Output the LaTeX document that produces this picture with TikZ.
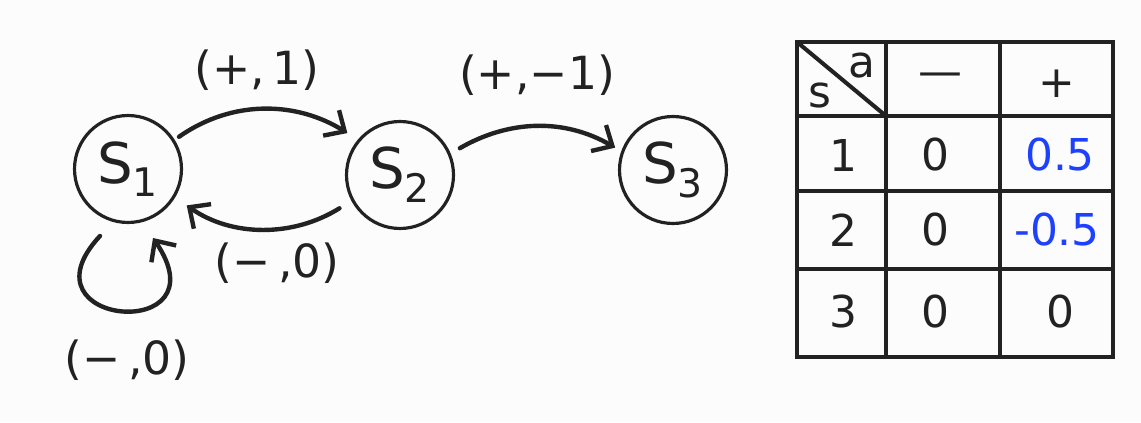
\documentclass[tikz,border=0pt]{standalone}
\usepackage{fontspec}
\setmainfont{DejaVu Sans}
\usetikzlibrary{arrows.meta}
\definecolor{ink}{RGB}{34,34,34}
\definecolor{penblue}{RGB}{30,64,255}
\definecolor{paper}{RGB}{252,252,252}
\begin{document}
\begin{tikzpicture}[x=0.02cm,y=0.02cm,
  state/.style={circle,draw=ink,line width=1.8pt,minimum size=2.14cm,inner sep=0pt,
    font=\fontsize{32}{36}\selectfont,text=ink},
  conn/.style={draw=ink,line width=2.5pt,line cap=round,
    -{Straight Barb[length=3.2mm,width=6mm,line width=2.5pt]}},
  lbl/.style={font=\fontsize{26}{30}\selectfont,text=ink,inner sep=0pt},
  cell/.style={font=\fontsize{25}{29}\selectfont,text=ink,inner sep=0pt},
  bluecell/.style={cell,text=penblue},
  gridline/.style={draw=ink,line width=2.3pt}]
\fill[paper] (0,0) rectangle (1141,422);
\useasboundingbox (0,0) rectangle (1141,422);

% states
\node[state] (s1) at (128,253) {S\textsubscript{1}};
\node[state] (s2) at (400,247) {S\textsubscript{2}};
\node[state] (s3) at (673,252) {S\textsubscript{3}};

% connectors
\draw[conn,shorten <=3pt,shorten >=7pt] (s1.32) to[out=35,in=148] (s2.140);
\draw[conn,shorten <=8pt,shorten >=8pt] (s2.208) to[out=212,in=-35] (s1.329);
\draw[conn,shorten <=6pt,shorten >=4pt] (s2.23) to[out=30,in=150] (s3.160);
\coordinate (loopa) at ([shift={(-28,-67)}]s1.center);
\coordinate (loopb) at ([shift={(25,-69)}]s1.center);
\draw[conn] (loopa) .. controls (15,95) and (225,78) .. (loopb);

% labels
\node[lbl] (l12) at (257,352) {(+,\,1)};
\node[lbl] (l21) at (277,159) {(−\,,0)};
\node[lbl] (l23) at (537,347) {(+,−1)};
\node[lbl] (l11) at (127,62) {(−\,,0)};

% table
\draw[gridline] (797,65) rectangle (1113,380);
\draw[gridline] (886,65) -- (886,380);
\draw[gridline] (1000,65) -- (1000,380);
\draw[gridline] (797,306) -- (1113,306);
\draw[gridline] (797,231) -- (1113,231);
\draw[gridline] (797,153) -- (1113,153);
\draw[gridline] (797,380) -- (886,306);

\node[cell] (ha) at (862,356) {a};
\node[cell] (hs) at (820,326) {s};
\node[cell] (hm) at (940,342) {—};
\node[cell] (hp) at (1057,338) {+};

\node[cell] (r1) at (843,267) {1};
\node[cell] (r1m) at (935,267) {0};
\node[bluecell] (r1p) at (1060,267) {0.5};

\node[cell] (r2) at (843,192) {2};
\node[cell] (r2m) at (935,192) {0};
\node[bluecell] (r2p) at (1057,192) {-0.5};

\node[cell] (r3) at (843,110) {3};
\node[cell] (r3m) at (935,110) {0};
\node[cell] (r3p) at (1060,110) {0};
\end{tikzpicture}
\end{document}
